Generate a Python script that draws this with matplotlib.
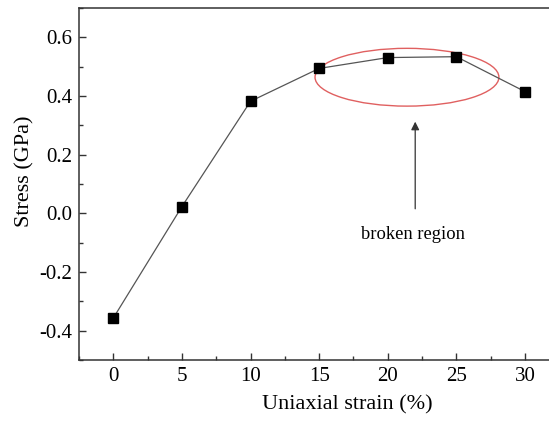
import matplotlib.pyplot as plt
from matplotlib.patches import Ellipse
from matplotlib.ticker import MultipleLocator

strain = [0, 5, 10, 15, 20, 25, 30]
stress = [-0.357, 0.023, 0.382, 0.494, 0.531, 0.534, 0.415]

plt.rcParams['font.family'] = ['Liberation Serif', 'DejaVu Serif']

fig = plt.figure(figsize=(5.49, 4.21), dpi=100)
ax = fig.add_axes([0.1439, 0.1449, 0.8561, 0.8361])

ax.plot(strain, stress, color='#555555', linewidth=0.9, marker='s',
        markersize=7, markerfacecolor='black', markeredgecolor='black')

# highlighted region
ax.add_patch(Ellipse((21.4, 0.464), 13.4, 0.197, fill=False,
                     edgecolor='#e06060', linewidth=1.0))
ax.annotate('', xy=(22.0, 0.322), xytext=(22.0, 0.006),
            arrowprops=dict(arrowstyle='-|>', color='#333333', lw=0.9,
                            mutation_scale=12))
ax.text(21.8, -0.073, 'broken region', ha='center', va='center', fontsize=13.3)

ax.set_xlim(-2.5, 31.75)
ax.set_ylim(-0.5, 0.7)
ax.xaxis.set_major_locator(MultipleLocator(5))
ax.xaxis.set_minor_locator(MultipleLocator(2.5))
ax.yaxis.set_minor_locator(MultipleLocator(0.1))
ax.set_yticks([-0.4, -0.2, 0.0, 0.2, 0.4, 0.6])
ax.set_yticklabels(['-0.4', '-0.2', '0.0', '0.2', '0.4', '0.6'])

ax.tick_params(which='both', direction='in', top=False, right=False,
               labelsize=15, color='#333333', width=1.0, pad=5)
ax.tick_params(which='major', length=5)
ax.tick_params(which='minor', length=3)

ax.spines['right'].set_visible(False)
for s in ['left', 'top', 'bottom']:
    ax.spines[s].set_color('#333333')
    ax.spines[s].set_linewidth(1.1)

ax.set_xlabel('Uniaxial strain (%)', fontsize=16)
ax.set_ylabel('Stress (GPa)', fontsize=16)
ax.xaxis.set_label_coords(0.57, -0.10)
ax.yaxis.set_label_coords(-0.094, 0.537)

fig.savefig('out.png', dpi=100)
